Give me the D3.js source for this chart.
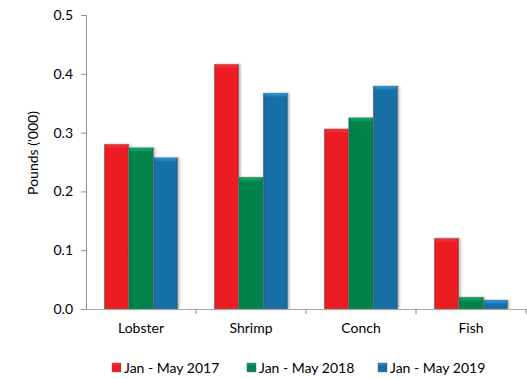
<!DOCTYPE html>
<html>
<head>
<meta charset="utf-8">
<script src="https://cdn.jsdelivr.net/npm/d3@7/dist/d3.min.js"></script>
<style>
  html, body { margin: 0; padding: 0; background: #fff; }
  svg { display: block; font-family: Lato, "Open Sans", sans-serif; }
</style>
</head>
<body>
<svg id="chart" width="527" height="379"></svg>
<script>
// Landings by species, in thousands of pounds
const categories = ["Lobster", "Shrimp", "Conch", "Fish"];
const seriesNames = ["Jan - May 2017", "Jan - May 2018", "Jan - May 2019"];
const values2017 = [0.280, 0.416, 0.306, 0.120];
const values2018 = [0.274, 0.224, 0.325, 0.020];
const values2019 = [0.257, 0.367, 0.379, 0.015];
const yTicks = [0, 0.1, 0.2, 0.3, 0.4, 0.5];
const colors = ["#ED1C24", "#00834A", "#176FA6"];

const series = [values2017, values2018, values2019];
const FONT = "Lato, 'Open Sans', sans-serif";
const FS = 14;

const svg = d3.select("#chart");
const margin = { left: 86, right: 1, top: 15, bottom: 70 };
const W = 527, H = 379;

const x0 = d3.scaleBand().domain(categories).range([margin.left, W - margin.right]).paddingInner(0).paddingOuter(0);
// each category holds three bars with a gap of 1.5 bar widths
const barW = x0.bandwidth() / 4.5;
const y = d3.scaleLinear().domain([0, 0.5]).range([H - margin.bottom, margin.top]);

// gradients: darker edges on each bar for a bevelled look
const defs = svg.append("defs");
colors.forEach((c, i) => {
  const g = defs.append("linearGradient").attr("id", "side" + i).attr("x1", 0).attr("x2", 1).attr("y1", 0).attr("y2", 0);
  const dark = d3.color(c).darker(0.5).formatHex();
  g.append("stop").attr("offset", 0).attr("stop-color", dark);
  g.append("stop").attr("offset", 0.08).attr("stop-color", c);
  g.append("stop").attr("offset", 0.92).attr("stop-color", c);
  g.append("stop").attr("offset", 1).attr("stop-color", dark);
  const t = defs.append("linearGradient").attr("id", "top" + i).attr("x1", 0).attr("x2", 0).attr("y1", 0).attr("y2", 1);
  t.append("stop").attr("offset", 0).attr("stop-color", d3.color(c).brighter(0.9).formatHex());
  t.append("stop").attr("offset", 1).attr("stop-color", d3.color(c).brighter(0.3).formatHex());
});
const shadow = defs.append("filter").attr("id", "shadow").attr("x", "-20%").attr("y", "-5%").attr("width", "150%").attr("height", "115%");
shadow.append("feDropShadow").attr("dx", 1.5).attr("dy", 0).attr("stdDeviation", 1.2).attr("flood-color", "#000").attr("flood-opacity", 0.3);

// y axis
const yAxis = d3.axisLeft(y).tickValues(yTicks).tickFormat(d3.format(".1f")).tickSize(5).tickPadding(8);
const gy = svg.append("g").attr("transform", `translate(${margin.left},0)`).call(yAxis);
gy.select(".domain").attr("stroke", "#8c8c8c");
gy.selectAll(".tick line").attr("stroke", "#8c8c8c");
gy.selectAll(".tick text").attr("font-size", FS).attr("fill", "#000").attr("font-family", FONT);

// bars
categories.forEach((cat, ci) => {
  series.forEach((vals, si) => {
    const bx = x0(cat) + barW * 0.75 + si * barW;
    const by = y(vals[ci]);
    const bh = y(0) - by;
    const g = svg.append("g").attr("filter", "url(#shadow)");
    g.append("rect").attr("x", bx).attr("y", by).attr("width", barW).attr("height", bh)
      .attr("fill", `url(#side${si})`).attr("stroke", "#7a7a7a").attr("stroke-width", 0.6);
    g.append("rect").attr("x", bx + 1.5).attr("y", by + 0.5).attr("width", barW - 3).attr("height", Math.min(3, bh - 0.5))
      .attr("fill", `url(#top${si})`);
  });
});

// x axis
const xAxis = d3.axisBottom(x0).tickSize(0).tickPadding(14);
const gx = svg.append("g").attr("transform", `translate(0,${y(0)})`).call(xAxis);
gx.select(".domain").attr("stroke", "#a6a6a6").attr("stroke-width", 1.2);
gx.selectAll(".tick text").attr("font-size", FS).attr("fill", "#000").attr("font-family", FONT);
// category separators
const bounds = categories.map(c => x0(c)).concat([x0(categories[categories.length - 1]) + x0.bandwidth()]);
svg.append("g").selectAll("line").data(bounds.slice(1)).join("line")
  .attr("x1", d => d).attr("x2", d => d).attr("y1", y(0)).attr("y2", y(0) + 5).attr("stroke", "#8c8c8c");

// y title
svg.append("text").attr("transform", `translate(33,153) rotate(-90)`)
  .attr("text-anchor", "middle").attr("dy", "0.35em").attr("font-size", FS).attr("fill", "#000").text("Pounds ('000)");

// legend
const legendX = [112, 247, 378];
const leg = svg.append("g").selectAll("g").data(seriesNames).join("g")
  .attr("transform", (d, i) => `translate(${legendX[i]},368)`);
leg.append("rect").attr("x", 0).attr("y", -5).attr("width", 9).attr("height", 9)
  .attr("fill", (d, i) => `url(#side${i})`).attr("stroke", "#7a7a7a").attr("stroke-width", 0.5);
leg.append("rect").attr("x", 1).attr("y", -4.5).attr("width", 7).attr("height", 2)
  .attr("fill", (d, i) => `url(#top${i})`);
leg.append("text").attr("x", 12).attr("y", 0).attr("dy", "0.35em").attr("font-size", FS).attr("fill", "#000").text(d => d);
</script>
</body>
</html>
